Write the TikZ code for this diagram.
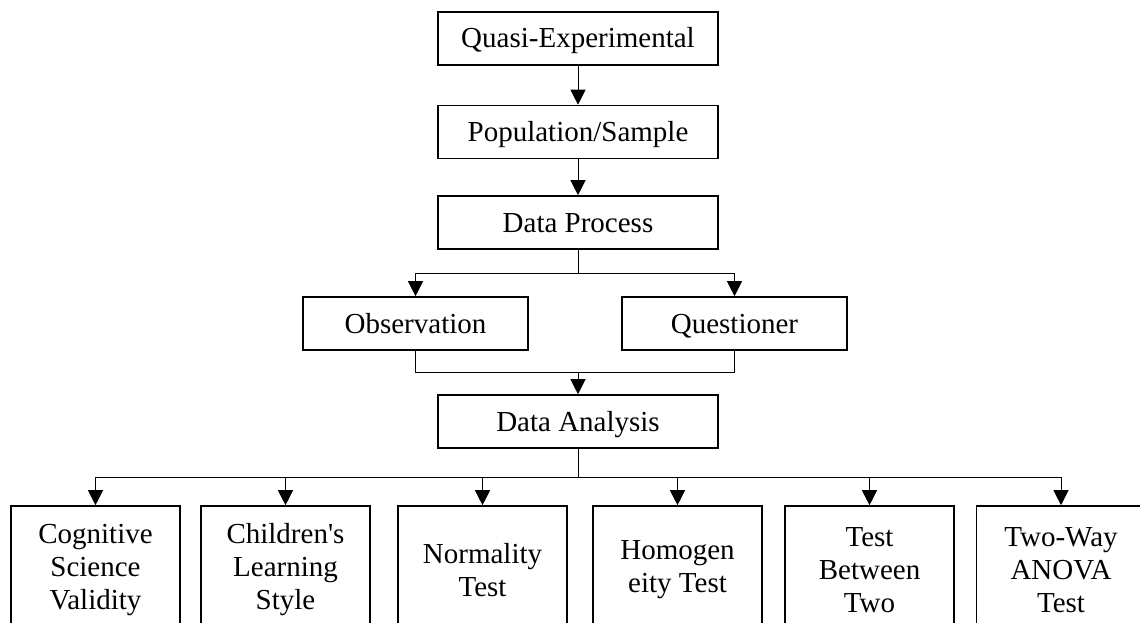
\documentclass[tikz,border=0pt]{standalone}
\usepackage{fontspec}
\setmainfont{Liberation Serif}[Ligatures=TeXOff]
\usetikzlibrary{arrows.meta,calc}
\begin{document}
\begin{tikzpicture}[x=1pt,y=1pt,
  box/.style={draw,line width=1.6pt,minimum width=280pt,minimum height=53pt,inner sep=0pt,
    text height=23pt,text depth=4pt,font=\fontsize{29}{33}\selectfont},
  midbox/.style={box,minimum width=225pt},
  leaf/.style={draw,line width=1.6pt,minimum width=169pt,minimum height=128pt,inner sep=0pt,
    align=center,font=\fontsize{29}{33}\selectfont},
  conn/.style={line width=1pt},
  arr/.style={conn,-{Triangle[width=15pt,length=15pt]}}]
\useasboundingbox (0,0) rectangle (1140,-623);
\clip (0,0) rectangle (1140,-623);
\node[box] (qe) at (578,-38.5) {Quasi-Experimental};
\node[box] (ps) at (578,-132) {Population/Sample};
\node[box] (dp) at (578,-222.5) {Data Process};
\node[midbox] (ob) at (415.5,-323.5) {Observation};
\node[midbox] (qs) at (734.5,-323.5) {Questioner};
\node[box] (da) at (578,-421.5) {Data Analysis};
\node[leaf] (l1) at (95.5,-570) {Cognitive\\Science\\Validity};
\node[leaf] (l2) at (285.5,-570) {Children's\\Learning\\Style};
\node[leaf] (l3) at (482.5,-570) {Normality\\Test};
\node[leaf] (l4) at (677.5,-570) {Homogen\\eity Test};
\node[leaf] (l5) at (869.5,-570) {Test\\Between\\Two};
\node[leaf] (l6) at (1061,-570) {Two-Way\\ANOVA\\Test};
\draw[arr] (qe) -- (ps);
\draw[arr] (ps) -- (dp);
\coordinate (b1) at ($(dp.south)+(0,-24)$);
\draw[conn] (dp.south) -- (b1);
\draw[arr] (b1) -| (ob.north);
\draw[arr] (b1) -| (qs.north);
\coordinate (m1) at ($(da.north)+(0,22)$);
\draw[conn] (ob.south) |- (m1) -| (qs.south);
\draw[arr] (m1) -- (da.north);
\coordinate (b2) at ($(da.south)+(0,-29)$);
\draw[conn] (da.south) -- (b2);
\foreach \n in {l1,l2,l3,l4,l5,l6}{
  \draw[arr] (b2) -| (\n.north);
}
\end{tikzpicture}
\end{document}
